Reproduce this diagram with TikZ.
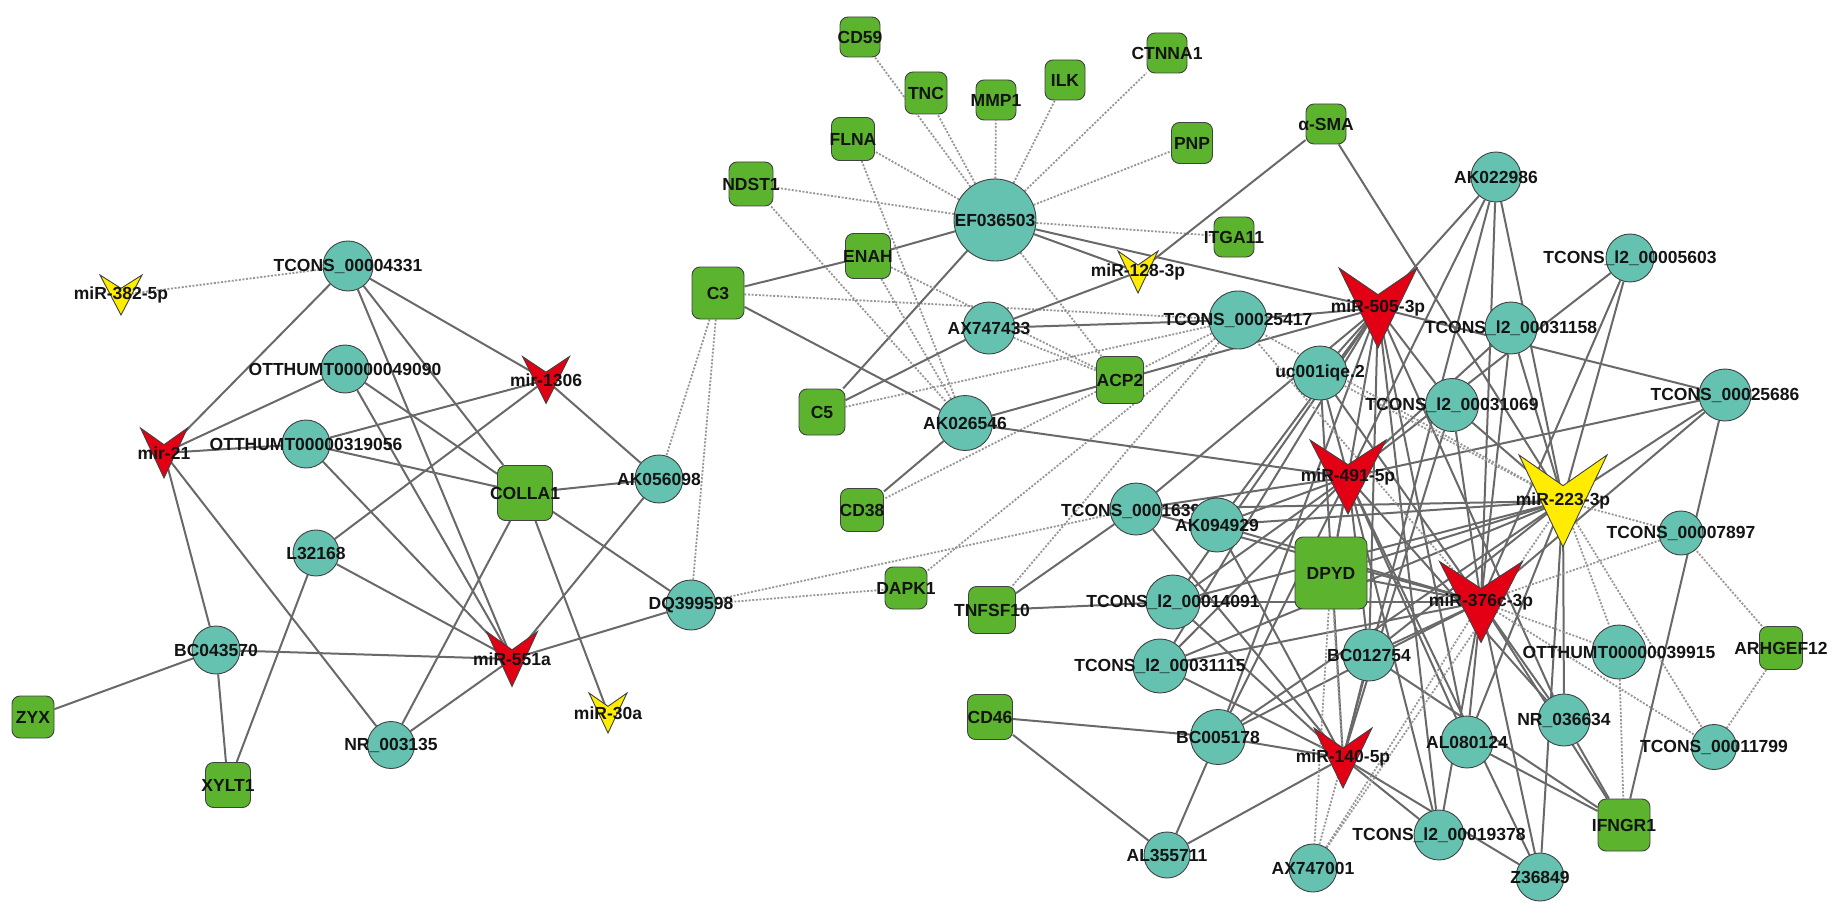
\documentclass[tikz,border=0pt]{standalone}
\usepackage{fontspec}
\setmainfont{Liberation Sans}
\usetikzlibrary{calc}

\pgfdeclarelayer{edgelayer}
\pgfsetlayers{edgelayer,main}

\definecolor{lncteal}{RGB}{102,194,176}
\definecolor{genegreen}{RGB}{92,180,46}
\definecolor{mirred}{RGB}{228,0,20}
\definecolor{miryellow}{RGB}{255,236,0}
\definecolor{nodeline}{RGB}{65,65,65}
\definecolor{linkgray}{RGB}{105,105,105}
\definecolor{dotgray}{RGB}{150,150,150}

\tikzset{
	lnc/.style={circle, draw=nodeline, line width=0.9pt, fill=lncteal, minimum size=#1pt, inner sep=0pt},
	lnc/.default=52,
	gene/.style={rectangle, rounded corners=8pt, draw=nodeline, line width=0.9pt, fill=genegreen, minimum size=#1pt, inner sep=0pt},
	gene/.default=42,
	lbl/.style={font=\fontsize{17.5}{18}\selectfont\bfseries, inner sep=0pt, text=black!92},
	link/.style={draw=linkgray, line width=2pt},
	coexp/.style={draw=dotgray, line width=1.8pt, dash pattern=on 2pt off 1.6pt}
}

% V shaped miRNA node: [colour]{name}{x,y}{width}{height}{label}
\newcommand{\mirv}[6][mirred]{%
	\fill[#1, draw=nodeline, line width=0.9pt] ($(#3)+(-#4/2,-#5/2)$) -- ($(#3)+(0,-#5/6)$) -- ($(#3)+(#4/2,-#5/2)$) -- ($(#3)+(0,#5/2)$) -- cycle;
	\coordinate (#2) at (#3);
	\node[lbl] (#2-t) at (#3) {#6};
}

\begin{document}
\begin{tikzpicture}[x=1pt, y=-1pt]
	\useasboundingbox (0,0) rectangle (1847,920);

	% left group
	\mirv[miryellow]{m382}{121,295}{42}{40}{miR-382-5p}
	\node[lnc=50, label={[lbl]center:TCONS\_00004331}] (t4331) at (348,266) {};
	\node[lnc=48, label={[lbl]center:OTTHUMT00000049090}] (o49090) at (345,369) {};
	\mirv{m1306}{546,380}{47}{47}{mir-1306}
	\mirv{m21}{164,453}{47}{50}{mir-21}
	\node[lnc=48, label={[lbl]center:OTTHUMT00000319056}] (o319056) at (306,444) {};
	\node[gene=55, label={[lbl]center:COLLA1}] (colla1) at (525,493) {};
	\node[lnc=48, label={[lbl]center:AK056098}] (ak056098) at (659,479) {};
	\node[lnc=46, label={[lbl]center:L32168}] (l32168) at (316,553) {};
	\node[lnc=50, label={[lbl]center:DQ399598}] (dq399598) at (691,605) {};
	\node[lnc=48, label={[lbl]center:BC043570}] (bc043570) at (216,650) {};
	\mirv{m551a}{512,659}{51}{55}{miR-551a}
	\mirv[miryellow]{m30a}{608,713}{38}{40}{miR-30a}
	\node[gene=42, label={[lbl]center:ZYX}] (zyx) at (33,717) {};
	\node[lnc=47, label={[lbl]center:NR\_003135}] (nr003135) at (391,745) {};
	\node[gene=45, label={[lbl]center:XYLT1}] (xylt1) at (228,785) {};

	% EF036503 group
	\node[gene=40, label={[lbl]center:CD59}] (cd59) at (860,37) {};
	\node[gene=42, label={[lbl]center:TNC}] (tnc) at (926,93) {};
	\node[gene=40, label={[lbl]center:MMP1}] (mmp1) at (996,100) {};
	\node[gene=40, label={[lbl]center:ILK}] (ilk) at (1065,80) {};
	\node[gene=40, label={[lbl]center:CTNNA1}] (ctnna1) at (1167,53) {};
	\node[gene=43, label={[lbl]center:FLNA}] (flna) at (853,139) {};
	\node[gene=41, label={[lbl]center:PNP}] (pnp) at (1192,143) {};
	\node[gene=40, label={[lbl]center:α-SMA}] (asma) at (1326,124) {};
	\node[gene=44, label={[lbl]center:NDST1}] (ndst1) at (751,184) {};
	\node[lnc=82, label={[lbl]center:EF036503}] (ef036503) at (995,220) {};
	\node[gene=40, label={[lbl]center:ITGA11}] (itga11) at (1234,237) {};
	\node[gene=45, label={[lbl]center:ENAH}] (enah) at (868,256) {};
	\mirv[miryellow]{m128}{1138,272}{40}{42}{miR-128-3p}
	\node[gene=52, label={[lbl]center:C3}] (c3) at (718,293) {};
	\node[lnc=52, label={[lbl]center:AX747433}] (ax747433) at (989,328) {};
	\node[lnc=58, label={[lbl]center:TCONS\_00025417}] (t25417) at (1238,320) {};
	\node[gene=47, label={[lbl]center:ACP2}] (acp2) at (1120,380) {};
	\node[gene=46, label={[lbl]center:C5}] (c5) at (822,412) {};
	\node[lnc=55, label={[lbl]center:AK026546}] (ak026546) at (965,423) {};
	\node[gene=43, label={[lbl]center:CD38}] (cd38) at (862,510) {};
	\node[gene=42, label={[lbl]center:DAPK1}] (dapk1) at (906,588) {};
	\node[gene=47, label={[lbl]center:TNFSF10}] (tnfsf10) at (992,610) {};
	\node[gene=45, label={[lbl]center:CD46}] (cd46) at (990,717) {};

	% right group
	\mirv{m505}{1378,308}{78}{80}{miR-505-3p}
	\node[lnc=50, label={[lbl]center:AK022986}] (ak022986) at (1496,177) {};
	\node[lnc=48, label={[lbl]center:TCONS\_l2\_00005603}] (t5603) at (1630,258) {};
	\node[lnc=52, label={[lbl]center:TCONS\_l2\_00031158}] (t31158) at (1511,328) {};
	\node[lnc=54, label={[lbl]center:uc001iqe.2}] (uc001iqe) at (1320,373) {};
	\node[lnc=53, label={[lbl]center:TCONS\_l2\_00031069}] (t31069) at (1452,405) {};
	\node[lnc=52, label={[lbl]center:TCONS\_00025686}] (t25686) at (1725,395) {};
	\mirv{m491}{1348,477}{76}{74}{miR-491-5p}
	\node[lnc=52] (t1639) at (1136,509) {};
	\node[lbl, anchor=west] (t1639-t) at (1061,511) {TCONS\_0001639};
	\node[lnc=54, label={[lbl]center:AK094929}] (ak094929) at (1217,525) {};
	\mirv[miryellow]{m223}{1563,501}{88}{92}{miR-223-3p}
	\node[lnc=44, label={[lbl]center:TCONS\_00007897}] (t7897) at (1681,533) {};
	\node[gene=72, label={[lbl]center:DPYD}] (dpyd) at (1331,573) {};
	\node[lnc=54, label={[lbl]center:TCONS\_l2\_00014091}] (t14091) at (1173,602) {};
	\mirv{m376c}{1481,602}{83}{81}{miR-376c-3p}
	\node[lnc=52, label={[lbl]center:BC012754}] (bc012754) at (1369,655) {};
	\node[lnc=54, label={[lbl]center:OTTHUMT00000039915}] (o39915) at (1619,652) {};
	\node[gene=43, label={[lbl]center:ARHGEF12}] (arhgef12) at (1781,648) {};
	\node[lnc=54, label={[lbl]center:TCONS\_l2\_00031115}] (t31115) at (1160,666) {};
	\node[lnc=52, label={[lbl]center:NR\_036634}] (nr036634) at (1564,720) {};
	\node[lnc=52, label={[lbl]center:AL080124}] (al080124) at (1467,742) {};
	\node[lnc=55, label={[lbl]center:BC005178}] (bc005178) at (1218,737) {};
	\mirv{m140}{1343,758}{58}{60}{miR-140-5p}
	\node[lnc=45, label={[lbl]center:TCONS\_00011799}] (t11799) at (1714,747) {};
	\node[gene=52, label={[lbl]center:IFNGR1}] (ifngr1) at (1624,825) {};
	\node[lnc=50, label={[lbl]center:TCONS\_l2\_00019378}] (t19378) at (1439,835) {};
	\node[lnc=46, label={[lbl]center:AL355711}] (al355711) at (1167,855) {};
	\node[lnc=48, label={[lbl]center:AX747001}] (ax747001) at (1313,868) {};
	\node[lnc=48, label={[lbl]center:Z36849}] (z36849) at (1540,877) {};

	\begin{pgfonlayer}{edgelayer}
	% left group
	\draw[coexp] (m382) -- (t4331);
	\draw[link] (t4331) edge (m21) edge (m1306) edge (colla1) edge (m551a);
	\draw[link] (o49090) edge (m21) edge (colla1) edge (m551a);
	\draw[link] (o319056) edge (m21) edge (m1306) edge (colla1) edge (m551a);
	\draw[link] (l32168) edge (m1306) edge (m551a) edge (xylt1);
	\draw[link] (bc043570) edge (m21) edge (m551a) edge (zyx) edge (xylt1);
	\draw[link] (nr003135) edge (m21) edge (m551a) edge (colla1);
	\draw[link] (colla1) edge (ak056098) edge (m30a) edge (dq399598);
	\draw[link] (ak056098) edge (m1306) edge (m551a);
	\draw[link] (dq399598) -- (m551a);
	\draw[coexp] (c3) edge (ak056098) edge (dq399598) edge (t25417);
	\draw[coexp] (dq399598) edge (dapk1) edge (t1639);

	% EF036503 group
	\draw[coexp] (ef036503) edge (cd59) edge (tnc) edge (mmp1) edge (ilk) edge (ctnna1) edge (flna) edge (pnp) edge (ndst1) edge (itga11) edge (acp2);
	\draw[link] (ef036503) edge (enah) edge (c5) edge (m128) edge (m505);
	\draw[coexp] (ndst1) -- (ak026546);
	\draw[coexp] (flna) -- (ak026546);
	\draw[coexp] (enah) edge (ak026546) edge (acp2);
	\draw[coexp] (ax747433) -- (acp2);
	\draw[coexp] (t25417) edge (c5) edge (cd38) edge (dapk1) edge (tnfsf10);
	\draw[link] (c3) edge (enah) edge (ak026546);
	\draw[link] (c5) -- (ax747433);
	\draw[link] (ax747433) edge (m128) edge (t25417);
	\draw[link] (ak026546) edge (acp2) edge (cd38) edge (m491);
	\draw[link] (acp2) -- (m505);
	\draw[link] (asma) edge (m128) edge (m223);
	\draw[link] (tnfsf10) edge (t1639) edge (t14091);

	% right group
	\draw[link] (m505) edge (t25417) edge (uc001iqe) edge (t25686) edge (t31069) edge (ak022986) edge (t1639) edge (ak094929) edge (t14091) edge (t31115) edge (dpyd) edge (bc005178) edge (bc012754) edge (al080124) edge (nr036634) edge (t19378);
	\draw[link] (m491) edge (ak022986) edge (uc001iqe) edge (t31158) edge (t5603) edge (t25686) edge (t1639) edge (ak094929) edge (t14091) edge (t31115) edge (dpyd) edge (bc005178) edge (bc012754) edge (al080124) edge (nr036634) edge (t19378) edge (z36849);
	\draw[link] (m223) edge (ak022986) edge (t5603) edge (t31158) edge (t25686) edge (t31069) edge (t1639) edge (ak094929) edge (t14091) edge (t31115) edge (dpyd) edge (bc005178) edge (bc012754) edge (al080124) edge (nr036634) edge (z36849);
	\draw[link] (m376c) edge (ak022986) edge (t5603) edge (t25686) edge (t31158) edge (t31069) edge (uc001iqe) edge (t1639) edge (ak094929) edge (t14091) edge (t31115) edge (dpyd) edge (bc005178) edge (bc012754) edge (al080124) edge (nr036634) edge (z36849) edge (t19378) edge (ifngr1);
	\draw[link] (m140) edge (ak022986) edge (uc001iqe) edge (t31069) edge (t1639) edge (ak094929) edge (t14091) edge (t31115) edge (bc005178) edge (bc012754) edge (al355711) edge (t19378) edge (z36849);
	\draw[link] (bc005178) edge (cd46) edge (al355711);
	\draw[link] (cd46) -- (al355711);
	\draw[link] (ifngr1) edge (al080124) edge (nr036634) edge (t25686) edge (bc012754);
	\draw[coexp] (m223) edge (uc001iqe) edge (t25417) edge (t7897) edge (o39915) edge (t11799) edge (ax747001);
	\draw[coexp] (m376c) edge (t25417) edge (t7897) edge (o39915) edge (t11799) edge (ax747001);
	\draw[coexp] (dpyd) edge (m140) edge (ax747001);
	\draw[coexp] (ax747001) -- (m140);
	\draw[coexp] (arhgef12) edge (t7897) edge (t11799);
	\draw[coexp] (o39915) -- (ifngr1);
	\end{pgfonlayer}
\end{tikzpicture}
\end{document}
